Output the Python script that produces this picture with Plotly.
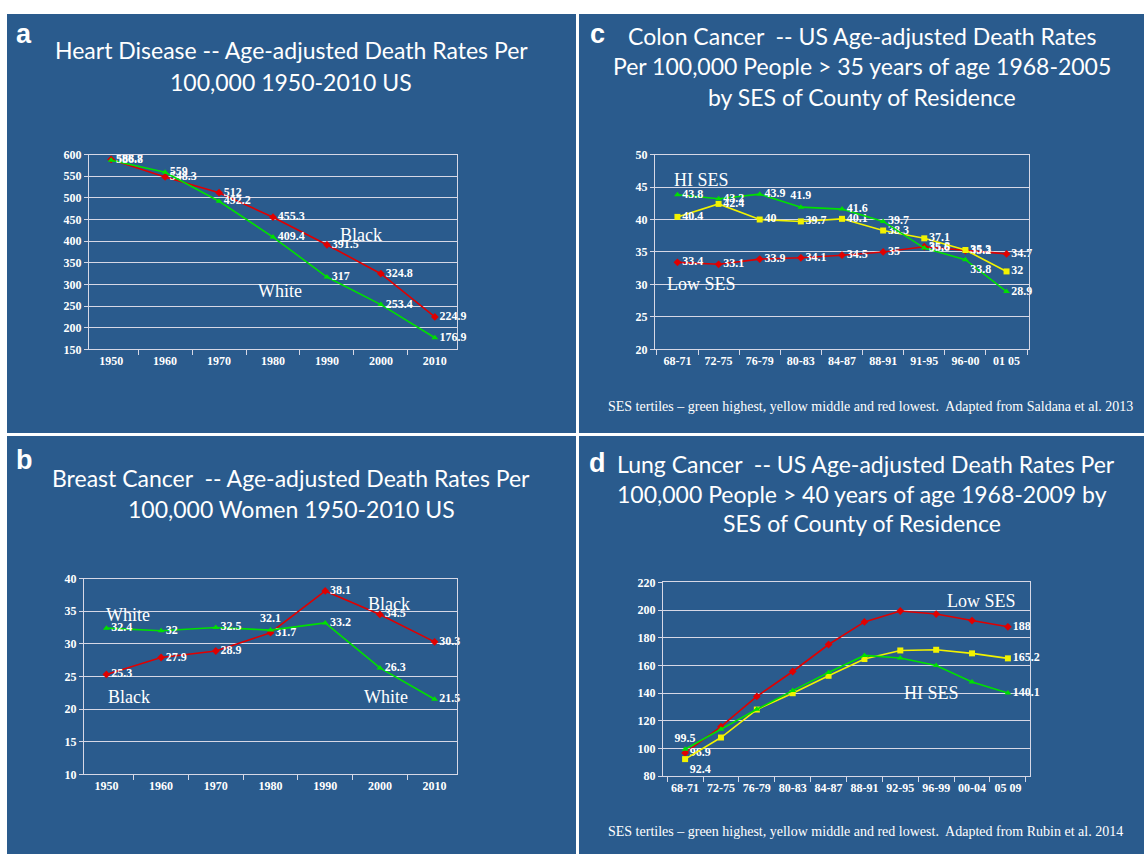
import plotly.graph_objects as go

W, H = 1144, 861

# ---------------- data ----------------
years = ["1950", "1960", "1970", "1980", "1990", "2000", "2010"]
heart_black = [588.7, 548.3, 512, 455.3, 391.5, 324.8, 224.9]
heart_white = [586.8, 559, 492.2, 409.4, 317, 253.4, 176.9]

breast_black = [25.3, 27.9, 28.9, 31.7, 38.1, 34.5, 30.3]
breast_white = [32.4, 32, 32.5, 32.1, 33.2, 26.3, 21.5]

colon_periods = ["68-71", "72-75", "76-79", "80-83", "84-87", "88-91", "91-95", "96-00", "01 05"]
colon_hi = [43.8, 43.2, 43.9, 41.9, 41.6, 39.7, 35.6, 33.8, 28.9]
colon_mid = [40.4, 42.4, 40, 39.7, 40.1, 38.3, 37.1, 35.3, 32]
colon_low = [33.4, 33.1, 33.9, 34.1, 34.5, 35, 35.8, 35.2, 34.7]

lung_periods = ["68-71", "72-75", "76-79", "80-83", "84-87", "88-91", "92-95", "96-99", "00-04", "05 09"]
lung_hi = [99.5, 113.9, 128.4, 141.9, 155, 167.3, 165.4, 160, 148.1, 140.1]
lung_mid = [92.4, 108, 128.2, 140, 152.6, 164.7, 170.9, 171.4, 168.8, 165.2]
lung_low = [96.9, 115.8, 137.7, 155.7, 175.2, 191.5, 199.4, 197.2, 192.5, 188]

# ---------------- style ----------------
BLUE = "#2a5b8d"
GRID = "#d6d8e6"
RED = "#e00000"
GREEN = "#00e000"
YELLOW = "#f2f200"
SERIF = "Liberation Serif"
SANS_T = "Lato"


def px(x):
    return x / W


def py(y):
    return 1 - y / H


def fmt(v):
    return f"{v:g}"


fig = go.Figure()

LBL = dict(family=SERIF, size=12, color="white", weight="bold")


def add_series(xs, ys, color, symbol, xa, ya, positions, labels=None):
    if labels is None:
        labels = [fmt(v) for v in ys]
    fig.add_trace(go.Scatter(
        x=xs, y=ys, mode="lines+markers+text",
        line=dict(color=color, width=1.6),
        marker=dict(color=color, symbol=symbol, size=6),
        text=labels, textposition=positions, textfont=LBL,
        cliponaxis=False, showlegend=False, xaxis=xa, yaxis=ya,
    ))


n7 = len(years)
# panel a
add_series(years, heart_black, RED, "diamond", "x", "y", ["middle right"] * n7)
add_series(years, heart_white, GREEN, "triangle-up", "x", "y", ["middle right"] * n7)
# panel b
add_series(years, breast_black, RED, "diamond", "x2", "y2", ["middle right"] * n7)
bw_pos = ["middle right"] * n7
bw_pos[3] = "top center"
add_series(years, breast_white, GREEN, "triangle-up", "x2", "y2", bw_pos)
# panel c
n9 = len(colon_periods)
ch_pos = ["middle right"] * n9
ch_pos[3] = "top center"
ch_pos[7] = "bottom right"
add_series(colon_periods, colon_low, RED, "diamond", "x3", "y3", ["middle right"] * n9)
add_series(colon_periods, colon_mid, YELLOW, "square", "x3", "y3", ["middle right"] * n9)
add_series(colon_periods, colon_hi, GREEN, "triangle-up", "x3", "y3", ch_pos)
# panel d
n10 = len(lung_periods)


def ends(vals):
    return [fmt(v) if i in (0, len(vals) - 1) else "" for i, v in enumerate(vals)]


add_series(lung_periods, lung_low, RED, "diamond", "x4", "y4",
           ["middle right"] * n10, ends(lung_low))
add_series(lung_periods, lung_mid, YELLOW, "square", "x4", "y4",
           ["bottom right"] + ["middle right"] * (n10 - 1), ends(lung_mid))
add_series(lung_periods, lung_hi, GREEN, "triangle-up", "x4", "y4",
           ["top center"] + ["middle right"] * (n10 - 1), ends(lung_hi))

TICKF = dict(family=SERIF, size=12, color="white", weight="bold")


def xax(x0, x1, anchor):
    return dict(domain=[px(x0), px(x1)], anchor=anchor, type="category",
                showline=True, mirror=True, linecolor=GRID, linewidth=1.2,
                ticks="outside", tickson="boundaries", ticklen=5, tickcolor=GRID,
                tickangle=0, showgrid=False, tickfont=TICKF, fixedrange=True)


def yax(ytop, ybot, rng, dtick, anchor):
    return dict(domain=[py(ybot), py(ytop)], anchor=anchor, range=rng, dtick=dtick,
                showline=True, mirror=True, linecolor=GRID, linewidth=1.2,
                showgrid=True, gridcolor=GRID, gridwidth=1.2, zeroline=False,
                ticks="outside", ticklen=4, tickcolor=GRID,
                tickfont=TICKF, fixedrange=True)


layout = dict(
    width=W, height=H,
    margin=dict(l=0, r=0, t=0, b=0),
    paper_bgcolor="white", plot_bgcolor="rgba(0,0,0,0)",
    showlegend=False,
    xaxis=xax(89, 457, "y"), yaxis=yax(150, 348, [150, 600], 50, "x"),
    xaxis2=xax(84, 457, "y2"), yaxis2=yax(581, 780, [10, 40], 5, "x2"),
    xaxis3=xax(655, 1029, "y3"), yaxis3=yax(150, 348, [20, 50], 5, "x3"),
    xaxis4=xax(663, 1030, "y4"), yaxis4=yax(585, 782, [80, 220], 20, "x4"),
)

# panel backgrounds
panels = [(7, 7, 576, 433), (579, 7, 1144, 433), (7, 436, 576, 861), (579, 436, 1144, 861)]
shapes = []
for x0, y0, x1, y1 in panels:
    shapes.append(dict(type="rect", xref="paper", yref="paper",
                       x0=px(x0), x1=px(x1), y0=py(y1), y1=py(y0),
                       fillcolor=BLUE, line=dict(width=0), layer="below"))
layout["shapes"] = shapes

ann = []


def text(x, y, s, size, family, xanchor="center", weight="normal"):
    ann.append(dict(x=px(x), y=py(y), xref="paper", yref="paper", text=s,
                    showarrow=False, xanchor=xanchor, yanchor="middle",
                    font=dict(family=family, size=size, color="white", weight=weight)))


# panel letters
text(24, 27, "a", 27, "Liberation Sans", weight="bold")
text(24, 460, "b", 27, "Liberation Sans", weight="bold")
text(597, 27, "c", 27, "Liberation Sans", weight="bold")
text(597, 464, "d", 27, "Liberation Sans", weight="bold")

# titles
TS = 23
text(291, 44, "Heart Disease -- Age-adjusted Death Rates Per", TS, SANS_T)
text(291, 76, "100,000 1950-2010 US", TS, SANS_T)
text(291, 479, "Breast Cancer  -- Age-adjusted Death Rates Per", TS, SANS_T)
text(291, 510, "100,000 Women 1950-2010 US", TS, SANS_T)
text(862, 29, "Colon Cancer  -- US Age-adjusted Death Rates", TS, SANS_T)
text(862, 60, "Per 100,000 People > 35 years of age 1968-2005", TS, SANS_T)
text(862, 91, "by SES of County of Residence", TS, SANS_T)
text(866, 465, "Lung Cancer  -- US Age-adjusted Death Rates Per", TS, SANS_T)
text(862, 495, "100,000 People > 40 years of age 1968-2009 by", TS, SANS_T)
text(862, 525, "SES of County of Residence", TS, SANS_T)

# series name labels
NS = 18
text(361, 232, "Black", NS, SERIF)
text(280, 289, "White", NS, SERIF)
text(128, 618, "White", NS, SERIF)
text(389, 607, "Black", NS, SERIF)
text(129, 701, "Black", NS, SERIF)
text(386, 701, "White", NS, SERIF)
text(701, 176, "HI SES", NS, SERIF)
text(701, 282, "Low SES", NS, SERIF)
text(981, 604, "Low SES", NS, SERIF)
text(931, 697, "HI SES", NS, SERIF)

# captions
text(606, 406, "SES tertiles \u2013 green highest, yellow middle and red lowest.  Adapted from Saldana et al. 2013",
     14, SERIF, xanchor="left")
text(606, 838, "SES tertiles \u2013 green highest, yellow middle and red lowest.  Adapted from Rubin et al. 2014",
     14, SERIF, xanchor="left")

layout["annotations"] = ann
fig.update_layout(**layout)
fig.write_html("out.html", config={"displayModeBar": False},
               post_script="document.body.style.margin='0';document.body.style.overflow='hidden';")
